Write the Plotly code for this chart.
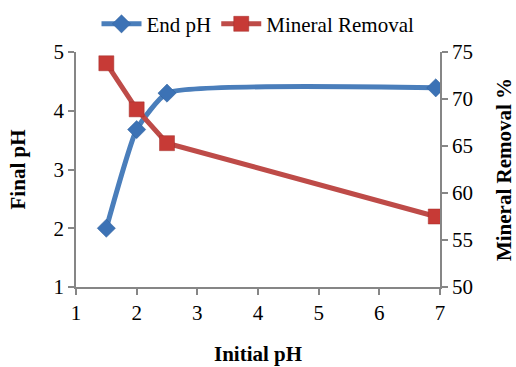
import plotly.graph_objects as go

# Initial pH vs final pH and mineral removal
initial_ph = [1.5, 2.0, 2.5, 6.93]
end_ph = [2.0, 3.68, 4.3, 4.39]
mineral_removal = [73.8, 68.9, 65.3, 57.5]

BLUE = "#4A7EBB"
RED = "#BE4B48"
AXIS = "#868686"
FONT = "Liberation Serif, Times New Roman, serif"

fig = go.Figure()

fig.add_trace(go.Scatter(
    x=initial_ph, y=end_ph, name="End pH",
    mode="lines+markers",
    line=dict(color=BLUE, width=5, shape="spline", smoothing=0.45),
    marker=dict(symbol="diamond", size=14, color="#3C72B5",
                line=dict(color="#2E5E9A", width=0.5)),
))

fig.add_trace(go.Scatter(
    x=initial_ph, y=mineral_removal, name="Mineral Removal",
    mode="lines+markers", yaxis="y2",
    line=dict(color=RED, width=5),
    marker=dict(symbol="square", size=15, color="#C73A36",
                line=dict(color="#A32E2B", width=0.5)),
))

axis_common = dict(
    showline=True, linecolor=AXIS, linewidth=1.5,
    ticks="outside", tickcolor=AXIS, ticklen=6, tickwidth=1.5,
    showgrid=False, zeroline=False, automargin=False,
    tickfont=dict(family=FONT, size=21, color="black"),
)
title_font = dict(family=FONT, size=21, color="black")

fig.update_layout(
    width=516, height=367,
    margin=dict(l=76, r=76, t=52, b=80, autoexpand=False),
    plot_bgcolor="white", paper_bgcolor="white",
    font=dict(family=FONT, color="black"),
    showlegend=True,
    legend=dict(orientation="h", x=0.5, xanchor="center",
                yref="container", y=0.99, yanchor="top",
                font=dict(family=FONT, size=21), itemwidth=40,
                bgcolor="rgba(0,0,0,0)"),
    xaxis=dict(range=[1, 7], dtick=1, tick0=1, **axis_common),
    yaxis=dict(range=[1, 5], dtick=1,
               title=dict(text="<b>Final pH</b>", font=title_font, standoff=22),
               **axis_common),
    yaxis2=dict(range=[50, 75], dtick=5, overlaying="y", side="right",
                title=dict(text="<b>Mineral Removal %</b>", font=title_font, standoff=25),
                **axis_common),
)

# x-axis title placed low, near the page's bottom edge
fig.add_annotation(
    text="<b>Initial pH</b>", font=title_font, showarrow=False,
    xref="paper", x=0.5, xanchor="center",
    yref="paper", y=-0.283, yanchor="middle",
)

fig.write_html("out.html")
